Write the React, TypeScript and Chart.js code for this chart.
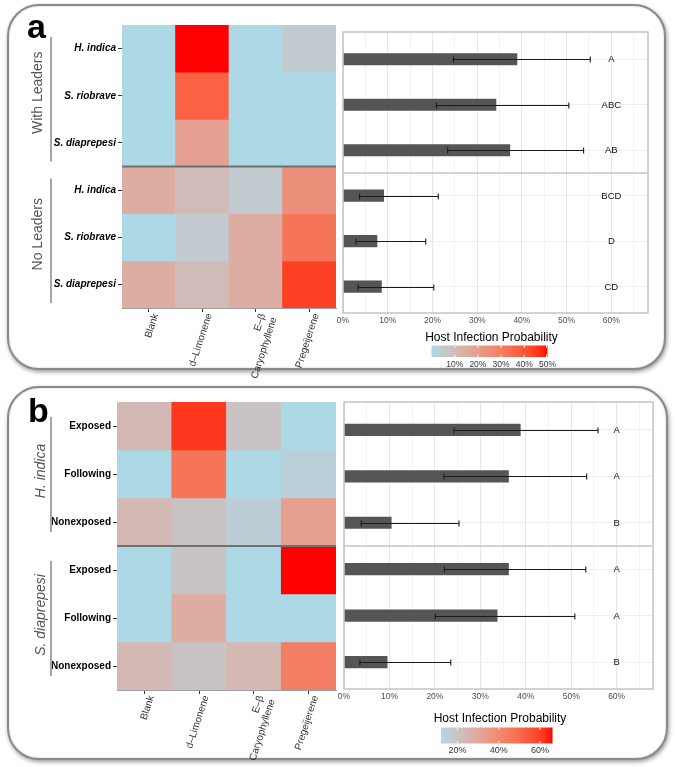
import React, { useEffect, useRef } from 'react';
import { Chart, registerables } from 'chart.js';

Chart.register(...registerables);

const FONT = "'Liberation Sans', Arial, Helvetica, sans-serif";
Chart.defaults.font.family = FONT;

// ---------------- data ----------------
const compounds: (string | string[])[] = ['Blank', 'd–Limonene', ['E–β', 'Caryophyllene'], 'Pregeijerene'];

// panel a
const rowsA = ['H. indica', 'S. riobrave', 'S. diaprepesi', 'H. indica', 'S. riobrave', 'S. diaprepesi'];
const groupsA = ['With Leaders', 'No Leaders'];
const heatA = [
  [0, 50, 0, 5],
  [0, 37, 0, 0],
  [0, 19, 0, 0],
  [15, 10, 5, 24],
  [0, 5, 15, 32],
  [15, 10, 15, 44],
];
const colorRangeA = [0, 50];
const legendTicksA = [10, 20, 30, 40, 50];
const meanA = [38.9, 34.2, 37.3, 9.1, 7.6, 8.6];
const lowA = [24.7, 20.9, 23.4, 3.7, 2.9, 3.4];
const highA = [55.3, 50.5, 53.8, 21.3, 18.5, 20.3];
const lettersA = ['A', 'ABC', 'AB', 'BCD', 'D', 'CD'];

// panel b
const rowsB = ['Exposed', 'Following', 'Nonexposed', 'Exposed', 'Following', 'Nonexposed'];
const groupsB = ['H. indica', 'S. diaprepesi'];
const heatB = [
  [24, 61, 20, 12],
  [12, 47, 12, 15],
  [24, 20, 16, 33],
  [12, 20, 12, 66],
  [12, 28, 12, 12],
  [24, 20, 24, 44],
];
const colorRangeB = [12, 66];
const legendTicksB = [20, 40, 60];
const meanB = [38.8, 36.2, 10.4, 36.2, 33.7, 9.5];
const lowB = [24.2, 22.0, 3.8, 22.1, 20.1, 3.5];
const highB = [55.9, 53.4, 25.3, 53.2, 50.8, 23.5];
const lettersB = ['A', 'A', 'B', 'A', 'A', 'B'];

const legendTitle = 'Host Infection Probability';

// ---------------- colour scale (Lab interpolation lightblue -> red) ----------------
const LOW_RGB = [173, 216, 230];
const HIGH_RGB = [255, 0, 0];

function toLin(c: number) {
  c /= 255;
  return c <= 0.04045 ? c / 12.92 : Math.pow((c + 0.055) / 1.055, 2.4);
}
function fromLin(c: number) {
  const v = c <= 0.0031308 ? 12.92 * c : 1.055 * Math.pow(c, 1 / 2.4) - 0.055;
  return Math.round(Math.max(0, Math.min(1, v)) * 255);
}
const XN = 0.95047, YN = 1, ZN = 1.08883;
function rgbToLab(rgb: number[]) {
  const r = toLin(rgb[0]), g = toLin(rgb[1]), b = toLin(rgb[2]);
  const X = (0.4124564 * r + 0.3575761 * g + 0.1804375 * b) / XN;
  const Y = (0.2126729 * r + 0.7151522 * g + 0.072175 * b) / YN;
  const Z = (0.0193339 * r + 0.119192 * g + 0.9503041 * b) / ZN;
  const f = (t: number) => (t > 0.008856 ? Math.cbrt(t) : 7.787 * t + 16 / 116);
  const fx = f(X), fy = f(Y), fz = f(Z);
  return [116 * fy - 16, 500 * (fx - fy), 200 * (fy - fz)];
}
function labToRgb(lab: number[]) {
  const fy = (lab[0] + 16) / 116;
  const fx = fy + lab[1] / 500;
  const fz = fy - lab[2] / 200;
  const inv = (f: number) => (f * f * f > 0.008856 ? f * f * f : (f - 16 / 116) / 7.787);
  const X = XN * inv(fx), Y = YN * inv(fy), Z = ZN * inv(fz);
  const r = 3.2404542 * X - 1.5371385 * Y - 0.4985314 * Z;
  const g = -0.969266 * X + 1.8760108 * Y + 0.041556 * Z;
  const b = 0.0556434 * X - 0.2040259 * Y + 1.0572252 * Z;
  return [fromLin(r), fromLin(g), fromLin(b)];
}
const LOW_LAB = rgbToLab(LOW_RGB);
const HIGH_LAB = rgbToLab(HIGH_RGB);
function colorAt(t: number) {
  const tt = Math.max(0, Math.min(1, t));
  const lab = LOW_LAB.map((v, i) => v + (HIGH_LAB[i] - v) * tt);
  const c = labToRgb(lab);
  return `rgb(${c[0]},${c[1]},${c[2]})`;
}
function cellColor(v: number, range: number[]) {
  return colorAt((v - range[0]) / (range[1] - range[0]));
}

// ---------------- heatmap ----------------
type HeatPanel = {
  rows: string[];
  groups: string[];
  values: number[][];
  range: number[];
  rowItalic: boolean;
  groupItalic: boolean;
  yWidth: number;
  xHeight: number;
  padding: { left: number; right: number; top: number; bottom: number };
  lineX: number;
  groupX: number;
  inset: number[];
  letter: string;
  letterX: number;
  letterY: number;
};

function heatPlugin(p: HeatPanel) {
  return {
    id: 'heatDecor',
    afterDraw(chart: any) {
      const { ctx, chartArea } = chart;
      const y = chart.scales.y;
      ctx.save();
      const yd = y.getPixelForValue(3);
      ctx.strokeStyle = '#707070';
      ctx.lineWidth = 2;
      ctx.beginPath();
      ctx.moveTo(chartArea.left, yd);
      ctx.lineTo(chartArea.right, yd);
      ctx.stroke();

      p.groups.forEach((g, gi) => {
        const top = y.getPixelForValue(gi * 3);
        const bot = y.getPixelForValue(gi * 3 + 3);
        ctx.strokeStyle = '#a6a6a6';
        ctx.lineWidth = 2;
        ctx.beginPath();
        ctx.moveTo(p.lineX, top + p.inset[0]);
        ctx.lineTo(p.lineX, bot - p.inset[1]);
        ctx.stroke();
        ctx.save();
        ctx.translate(p.groupX, (top + bot) / 2 - 3);
        ctx.rotate(-Math.PI / 2);
        ctx.font = `${p.groupItalic ? 'italic ' : ''}14px ${FONT}`;
        ctx.fillStyle = '#555555';
        ctx.textAlign = 'center';
        ctx.textBaseline = 'middle';
        ctx.fillText(g, 0, 0);
        ctx.restore();
      });

      ctx.font = `bold 34px ${FONT}`;
      ctx.fillStyle = '#000';
      ctx.textAlign = 'left';
      ctx.textBaseline = 'alphabetic';
      ctx.fillText(p.letter, p.letterX, p.letterY);
      ctx.restore();
    },
  };
}

function heatConfig(p: HeatPanel): any {
  return {
    type: 'bar',
    data: {
      labels: compounds,
      datasets: p.rows.map((r, i) => ({
        label: r,
        data: p.values[i].map(() => [i, i + 1]),
        backgroundColor: p.values[i].map((v) => cellColor(v, p.range)),
        borderWidth: 0,
        grouped: false,
        barPercentage: 1,
        categoryPercentage: 1,
      })),
    },
    options: {
      responsive: false,
      animation: false,
      devicePixelRatio: 1,
      events: [],
      layout: { padding: p.padding },
      plugins: { legend: { display: false }, tooltip: { enabled: false } },
      scales: {
        x: {
          type: 'category',
          offset: true,
          grid: { offset: false, drawOnChartArea: false, tickLength: 4, color: '#333' },
          border: { display: true, color: '#a0a0a0', width: 1 },
          ticks: {
            minRotation: 72,
            maxRotation: 72,
            autoSkip: false,
            padding: 0,
            labelOffset: 7,
            color: '#333',
            font: { size: 10, family: FONT },
          },
          afterFit: (s: any) => {
            s.height = p.xHeight;
            s.paddingLeft = 0;
            s.paddingRight = 0;
          },
        },
        y: {
          type: 'linear',
          min: 0,
          max: 6,
          reverse: true,
          afterBuildTicks: (s: any) => {
            s.ticks = p.rows.map((_, i) => ({ value: i + 0.5 }));
          },
          grid: { drawOnChartArea: false, tickLength: 4, color: '#333' },
          border: { display: false },
          ticks: {
            autoSkip: false,
            padding: 2,
            color: '#000',
            font: { size: 10, weight: 'bold', style: p.rowItalic ? 'italic' : 'normal', family: FONT },
            callback: (_v: any, i: number) => p.rows[i],
          },
          afterFit: (s: any) => {
            s.width = p.yWidth;
            s.paddingTop = 0;
            s.paddingBottom = 0;
          },
        },
      },
    },
    plugins: [heatPlugin(p)],
  };
}

// ---------------- bar chart ----------------
type BarPanel = {
  mean: number[];
  low: number[];
  high: number[];
  letters: string[];
  xMax: number;
  padding: { left: number; right: number; top: number; bottom: number };
  range: number[];
  legendTicks: number[];
  legend: { titleX: number; titleY: number; x0: number; x1: number; y0: number; y1: number; labelY: number; labelSize: number };
};

function barPlugin(p: BarPanel) {
  return {
    id: 'barDecor',
    afterDatasetsDraw(chart: any) {
      const { ctx, chartArea } = chart;
      const xs = chart.scales.x;
      const ys = chart.scales.y;
      ctx.save();
      ctx.strokeStyle = '#1a1a1a';
      ctx.lineWidth = 1.1;
      p.mean.forEach((_, i) => {
        const y = Math.round(ys.getPixelForValue(i + 0.5)) + 0.5;
        const x1 = xs.getPixelForValue(p.low[i]);
        const x2 = xs.getPixelForValue(p.high[i]);
        ctx.beginPath();
        ctx.moveTo(x1, y);
        ctx.lineTo(x2, y);
        ctx.moveTo(x1, y - 3);
        ctx.lineTo(x1, y + 3);
        ctx.moveTo(x2, y - 3);
        ctx.lineTo(x2, y + 3);
        ctx.stroke();
        ctx.font = `9.5px ${FONT}`;
        ctx.fillStyle = '#111';
        ctx.textAlign = 'center';
        ctx.textBaseline = 'middle';
        ctx.fillText(p.letters[i], xs.getPixelForValue(60), y);
      });
      // facet divider and panel border
      ctx.strokeStyle = '#c4c4c4';
      ctx.lineWidth = 1.5;
      const yd = ys.getPixelForValue(3);
      ctx.beginPath();
      ctx.moveTo(chartArea.left, yd);
      ctx.lineTo(chartArea.right, yd);
      ctx.stroke();
      ctx.strokeRect(chartArea.left, chartArea.top, chartArea.right - chartArea.left, chartArea.bottom - chartArea.top);
      ctx.restore();
    },
    afterDraw(chart: any) {
      const { ctx } = chart;
      const L = p.legend;
      ctx.save();
      ctx.font = `12px ${FONT}`;
      ctx.fillStyle = '#000';
      ctx.textAlign = 'center';
      ctx.textBaseline = 'middle';
      ctx.fillText(legendTitle, L.titleX, L.titleY);
      const grad = ctx.createLinearGradient(L.x0, 0, L.x1, 0);
      for (let k = 0; k <= 40; k++) grad.addColorStop(k / 40, colorAt(k / 40));
      ctx.fillStyle = grad;
      ctx.fillRect(L.x0, L.y0, L.x1 - L.x0, L.y1 - L.y0);
      ctx.strokeStyle = 'rgba(255,255,255,0.9)';
      ctx.lineWidth = 1;
      ctx.font = `${L.labelSize}px ${FONT}`;
      ctx.fillStyle = '#333';
      p.legendTicks.forEach((v) => {
        const x = L.x0 + ((v - p.range[0]) / (p.range[1] - p.range[0])) * (L.x1 - L.x0);
        const xx = Math.min(x, L.x1 - 1);
        ctx.beginPath();
        ctx.moveTo(xx, L.y0);
        ctx.lineTo(xx, L.y0 + 2.5);
        ctx.moveTo(xx, L.y1);
        ctx.lineTo(xx, L.y1 - 2.5);
        ctx.stroke();
        ctx.fillText(`${v}%`, x, L.labelY);
      });
      ctx.restore();
    },
  };
}

function barConfig(p: BarPanel): any {
  return {
    type: 'bar',
    data: {
      datasets: [
        {
          data: p.mean.map((v, i) => ({ x: v, y: i + 0.5 })),
          backgroundColor: '#555555',
          borderWidth: 0,
          barThickness: 11.5,
        },
      ],
    },
    options: {
      indexAxis: 'y',
      responsive: false,
      animation: false,
      devicePixelRatio: 1,
      events: [],
      layout: { padding: p.padding },
      plugins: { legend: { display: false }, tooltip: { enabled: false } },
      scales: {
        x: {
          type: 'linear',
          min: 0,
          max: p.xMax,
          ticks: {
            stepSize: 5,
            includeBounds: false,
            autoSkip: false,
            maxRotation: 0,
            padding: 3,
            color: '#4d4d4d',
            font: { size: 8.5, family: FONT },
            callback: (v: number) => (v % 10 === 0 ? `${v}%` : ''),
          },
          grid: {
            drawTicks: false,
            color: (c: any) => (c.tick && c.tick.value % 10 === 0 ? '#e6e6e6' : '#f3f3f3'),
            lineWidth: 1,
          },
          border: { display: false },
          afterFit: (s: any) => {
            s.height = 20;
            s.paddingLeft = 0;
            s.paddingRight = 0;
          },
        },
        y: {
          type: 'linear',
          offset: false,
          min: -0.1,
          max: 6.08,
          reverse: true,
          afterBuildTicks: (s: any) => {
            s.ticks = p.mean.map((_, i) => ({ value: i + 0.5 }));
          },
          ticks: { display: false },
          grid: { drawTicks: false, offset: false, color: '#eeeeee' },
          border: { display: false },
          afterFit: (s: any) => {
            s.width = 0;
            s.paddingTop = 0;
            s.paddingBottom = 0;
          },
        },
      },
    },
    plugins: [barPlugin(p)],
  };
}

// ---------------- panels ----------------
const heatPanelA: HeatPanel = {
  rows: rowsA,
  groups: groupsA,
  values: heatA,
  range: colorRangeA,
  rowItalic: true,
  groupItalic: false,
  yWidth: 122,
  xHeight: 78,
  padding: { left: 0, right: 339, top: 25, bottom: 381 },
  lineX: 51,
  groupX: 38,
  inset: [12, 5],
  letter: 'a',
  letterX: 27,
  letterY: 38,
};
const heatPanelB: HeatPanel = {
  rows: rowsB,
  groups: groupsB,
  values: heatB,
  range: colorRangeB,
  rowItalic: false,
  groupItalic: true,
  yWidth: 117,
  xHeight: 76,
  padding: { left: 0, right: 339, top: 402, bottom: 1 },
  lineX: 51,
  groupX: 41,
  inset: [15, 14],
  letter: 'b',
  letterX: 28,
  letterY: 422,
};
const barPanelA: BarPanel = {
  mean: meanA,
  low: lowA,
  high: highA,
  letters: lettersA,
  xMax: 68.2,
  padding: { left: 343, right: 27, top: 32, bottom: 434 },
  range: colorRangeA,
  legendTicks: legendTicksA,
  legend: { titleX: 491.5, titleY: 338, x0: 431.5, x1: 547.5, y0: 345.5, y1: 357, labelY: 364.5, labelSize: 8.5 },
};
const barPanelB: BarPanel = {
  mean: meanB,
  low: lowB,
  high: highB,
  letters: lettersB,
  xMax: 68,
  padding: { left: 344, right: 22, top: 402, bottom: 58 },
  range: colorRangeB,
  legendTicks: legendTicksB,
  legend: { titleX: 500, titleY: 718.5, x0: 441, x1: 552.5, y0: 727.5, y1: 743.5, labelY: 750.5, labelSize: 9 },
};

function ChartCanvas({ make }: { make: () => any }) {
  const ref = useRef<HTMLCanvasElement>(null);
  useEffect(() => {
    const chart = new Chart(ref.current as HTMLCanvasElement, make());
    return () => chart.destroy();
  }, []);
  return (
    <canvas
      ref={ref}
      width={675}
      height={767}
      style={{ position: 'absolute', left: 0, top: 0, width: 675, height: 767 }}
    />
  );
}

const frameStyle: React.CSSProperties = {
  position: 'absolute',
  boxSizing: 'border-box',
  border: '2.5px solid #8a8a8a',
  borderRadius: 32,
  boxShadow: '1px 2px 4px rgba(0,0,0,0.4), inset 0 0 2px rgba(0,0,0,0.25)',
  background: '#fff',
};

export default function App() {
  return (
    <div style={{ position: 'absolute', left: 0, top: 0, width: 675, height: 767, background: '#fff', overflow: 'hidden' }}>
      <div style={{ ...frameStyle, left: 7, top: 4, width: 659, height: 366 }} />
      <div style={{ ...frameStyle, left: 7, top: 386, width: 661, height: 374 }} />
      <ChartCanvas make={() => heatConfig(heatPanelA)} />
      <ChartCanvas make={() => barConfig(barPanelA)} />
      <ChartCanvas make={() => heatConfig(heatPanelB)} />
      <ChartCanvas make={() => barConfig(barPanelB)} />
    </div>
  );
}
